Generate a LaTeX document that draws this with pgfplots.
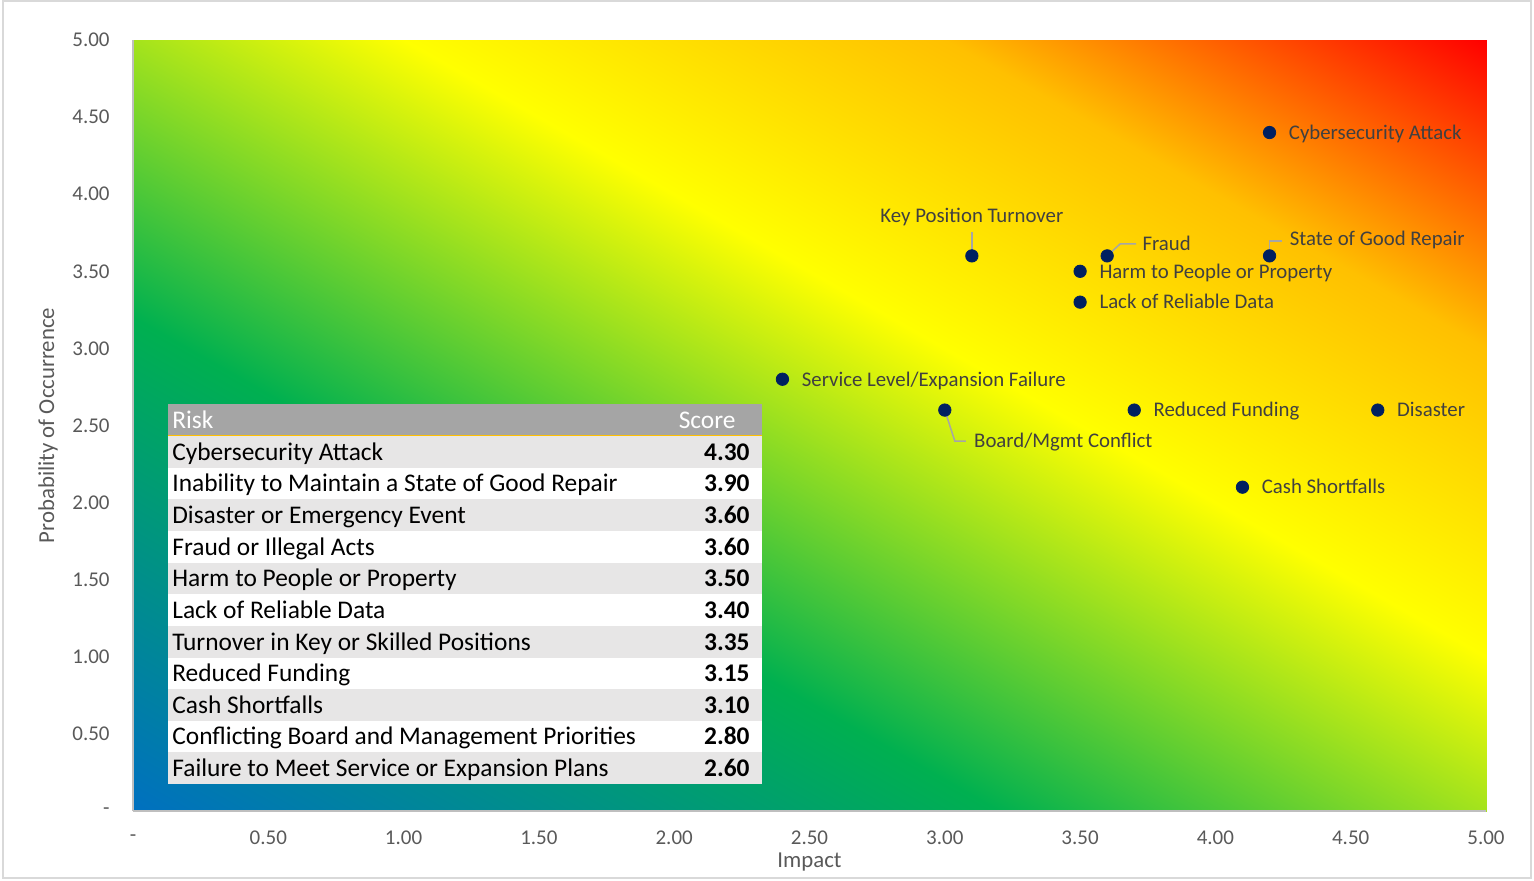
\documentclass[border=0pt]{standalone}
\usepackage{pgfplots}
\pgfplotsset{compat=1.18}
\usepackage{fontspec}
\setmainfont{Carlito}
\definecolor{ticktxt}{HTML}{595959}
\definecolor{lbltxt}{HTML}{404040}
\definecolor{navy}{HTML}{002060}
\definecolor{leader}{HTML}{A6A6A6}
\definecolor{hdr}{HTML}{A5A5A5}
\definecolor{rowg}{HTML}{E7E6E6}
\definecolor{framec}{HTML}{D9D9D9}
\definecolor{goldline}{HTML}{FFC000}
\begin{document}
\begin{tikzpicture}[
  lbl/.style={anchor=base west, inner sep=0pt, text=lbltxt, font=\fontsize{10.4}{12}\selectfont, yshift=-3.4pt},
  tbl/.style={inner sep=0pt, text=black, font=\fontsize{12.7}{15}\selectfont, yshift=-4.1pt},
  ld/.style={leader, line width=0.75pt}
]
\begin{axis}[
  scale only axis, width=676.5pt, height=385.5pt,
  xmin=0, xmax=5, ymin=0, ymax=5,
  clip=false, axis on top=true,
  axis x line*=bottom, axis y line*=left,
  axis line style={color=black!25, line width=0.75pt},
  xtick={0,0.5,1,1.5,2,2.5,3,3.5,4,4.5,5},
  ytick={0,0.5,1,1.5,2,2.5,3,3.5,4,4.5,5},
  xticklabels={-,0.50,1.00,1.50,2.00,2.50,3.00,3.50,4.00,4.50,5.00},
  yticklabels={-\hspace{5pt},0.50,1.00,1.50,2.00,2.50,3.00,3.50,4.00,4.50,5.00},
  major tick length=0pt,
  tick label style={font=\fontsize{10.5}{12}\selectfont, text=ticktxt},
  xticklabel style={anchor=center, inner sep=0pt, yshift=-13.5pt},
  yticklabel style={anchor=east, inner sep=0pt, xshift=-11.5pt},
  xlabel={Impact}, ylabel={Probability of Occurrence},
  label style={font=\fontsize{11.4}{13}\selectfont, text=ticktxt},
  xlabel style={at={(axis description cs:0.5,-0.0661)}, anchor=center},
  ylabel style={at={(axis description cs:-0.0628,0.5)}, anchor=center},
  colormap={riskmap}{rgb255(0cm)=(0,112,192); rgb255(3.2cm)=(0,176,80); rgb255(6cm)=(255,255,0); rgb255(8cm)=(255,192,0); rgb255(10cm)=(255,0,0)},
]
% background gradient (meta = x + y)
\addplot[surf, shader=interp, mesh/cols=2, point meta=explicit, point meta min=0, point meta max=10]
  coordinates {(0,0) [0] (5,0) [5] (0,5) [5] (5,5) [10]};

% outer frame and bounding box
\path (axis cs:-0.4915,-0.4475) rectangle (axis cs:5.1774,5.2594);
\draw[framec, line width=0.75pt] (axis cs:-0.4804,-0.4345) rectangle (axis cs:5.1663,5.2529);

% table
\fill[hdr] (axis cs:0.129,2.639) rectangle (axis cs:2.324,2.432);
\fill[rowg] (axis cs:0.129,2.432) rectangle (axis cs:2.324,2.227);
\fill[white] (axis cs:0.129,2.227) rectangle (axis cs:2.324,2.021);
\fill[rowg] (axis cs:0.129,2.021) rectangle (axis cs:2.324,1.816);
\fill[white] (axis cs:0.129,1.816) rectangle (axis cs:2.324,1.611);
\fill[rowg] (axis cs:0.129,1.611) rectangle (axis cs:2.324,1.406);
\fill[white] (axis cs:0.129,1.406) rectangle (axis cs:2.324,1.200);
\fill[rowg] (axis cs:0.129,1.200) rectangle (axis cs:2.324,0.995);
\fill[white] (axis cs:0.129,0.995) rectangle (axis cs:2.324,0.790);
\fill[rowg] (axis cs:0.129,0.790) rectangle (axis cs:2.324,0.585);
\fill[white] (axis cs:0.129,0.585) rectangle (axis cs:2.324,0.380);
\fill[rowg] (axis cs:0.129,0.380) rectangle (axis cs:2.324,0.175);
\draw[goldline, line width=0.5pt] (axis cs:0.129,2.432) -- (axis cs:2.324,2.432);

\node[tbl, anchor=base west, text=white] at (axis cs:0.144,2.5355) {Risk};
\node[tbl, anchor=base east, text=white] at (axis cs:2.228,2.5355) {Score};

\node[tbl, anchor=base west] at (axis cs:0.144,2.329) {Cybersecurity Attack};
\node[tbl, anchor=base west] at (axis cs:0.144,2.124) {Inability to Maintain a State of Good Repair};
\node[tbl, anchor=base west] at (axis cs:0.144,1.918) {Disaster or Emergency Event};
\node[tbl, anchor=base west] at (axis cs:0.144,1.713) {Fraud or Illegal Acts};
\node[tbl, anchor=base west] at (axis cs:0.144,1.508) {Harm to People or Property};
\node[tbl, anchor=base west] at (axis cs:0.144,1.303) {Lack of Reliable Data};
\node[tbl, anchor=base west] at (axis cs:0.144,1.097) {Turnover in Key or Skilled Positions};
\node[tbl, anchor=base west] at (axis cs:0.144,0.892) {Reduced Funding};
\node[tbl, anchor=base west] at (axis cs:0.144,0.687) {Cash Shortfalls};
\node[tbl, anchor=base west] at (axis cs:0.144,0.482) {Conflicting Board and Management Priorities};
\node[tbl, anchor=base west] at (axis cs:0.144,0.277) {Failure to Meet Service or Expansion Plans};

\node[tbl, anchor=base east, font=\fontsize{12.7}{15}\selectfont\bfseries] at (axis cs:2.280,2.329) {4.30};
\node[tbl, anchor=base east, font=\fontsize{12.7}{15}\selectfont\bfseries] at (axis cs:2.280,2.124) {3.90};
\node[tbl, anchor=base east, font=\fontsize{12.7}{15}\selectfont\bfseries] at (axis cs:2.280,1.918) {3.60};
\node[tbl, anchor=base east, font=\fontsize{12.7}{15}\selectfont\bfseries] at (axis cs:2.280,1.713) {3.60};
\node[tbl, anchor=base east, font=\fontsize{12.7}{15}\selectfont\bfseries] at (axis cs:2.280,1.508) {3.50};
\node[tbl, anchor=base east, font=\fontsize{12.7}{15}\selectfont\bfseries] at (axis cs:2.280,1.303) {3.40};
\node[tbl, anchor=base east, font=\fontsize{12.7}{15}\selectfont\bfseries] at (axis cs:2.280,1.097) {3.35};
\node[tbl, anchor=base east, font=\fontsize{12.7}{15}\selectfont\bfseries] at (axis cs:2.280,0.892) {3.15};
\node[tbl, anchor=base east, font=\fontsize{12.7}{15}\selectfont\bfseries] at (axis cs:2.280,0.687) {3.10};
\node[tbl, anchor=base east, font=\fontsize{12.7}{15}\selectfont\bfseries] at (axis cs:2.280,0.482) {2.80};
\node[tbl, anchor=base east, font=\fontsize{12.7}{15}\selectfont\bfseries] at (axis cs:2.280,0.277) {2.60};

% leader lines
\draw[ld] (axis cs:4.2,3.6) -- ++(0pt,7.5pt) -- ++(6pt,0pt);
\draw[ld] (axis cs:3.6,3.6) -- ++(6.5pt,6pt) -- ++(8pt,0pt);
\draw[ld] (axis cs:3.1,3.6) -- ++(0pt,12pt);
\draw[ld] (axis cs:3.0,2.6) -- ++(5pt,-15.5pt) -- ++(5.5pt,0pt);

% risk points
\addplot[only marks, mark=*, mark size=3.1pt, draw=navy, fill=navy]
  coordinates {(4.2,4.4) (4.2,3.6) (3.1,3.6) (3.6,3.6) (3.5,3.5) (3.5,3.3)
               (2.4,2.8) (3.0,2.6) (3.7,2.6) (4.6,2.6) (4.1,2.1)};

% data labels
\node[lbl, xshift=9.5pt] at (axis cs:4.2,4.4) {Cybersecurity Attack};
\node[lbl, xshift=10pt, yshift=8.5pt] at (axis cs:4.2,3.6) {State of Good Repair};
\node[lbl, anchor=base, yshift=20pt] at (axis cs:3.1,3.6) {Key Position Turnover};
\node[lbl, xshift=17.5pt, yshift=6pt] at (axis cs:3.6,3.6) {Fraud};
\node[lbl, xshift=9.5pt] at (axis cs:3.5,3.5) {Harm to People or Property};
\node[lbl, xshift=9.5pt] at (axis cs:3.5,3.3) {Lack of Reliable Data};
\node[lbl, xshift=9.5pt] at (axis cs:2.4,2.8) {Service Level/Expansion Failure};
\node[lbl, xshift=14.5pt, yshift=-15.5pt] at (axis cs:3.0,2.6) {Board/Mgmt Conflict};
\node[lbl, xshift=9.5pt] at (axis cs:3.7,2.6) {Reduced Funding};
\node[lbl, xshift=9.5pt] at (axis cs:4.6,2.6) {Disaster};
\node[lbl, xshift=9.5pt] at (axis cs:4.1,2.1) {Cash Shortfalls};
\end{axis}
\end{tikzpicture}
\end{document}
